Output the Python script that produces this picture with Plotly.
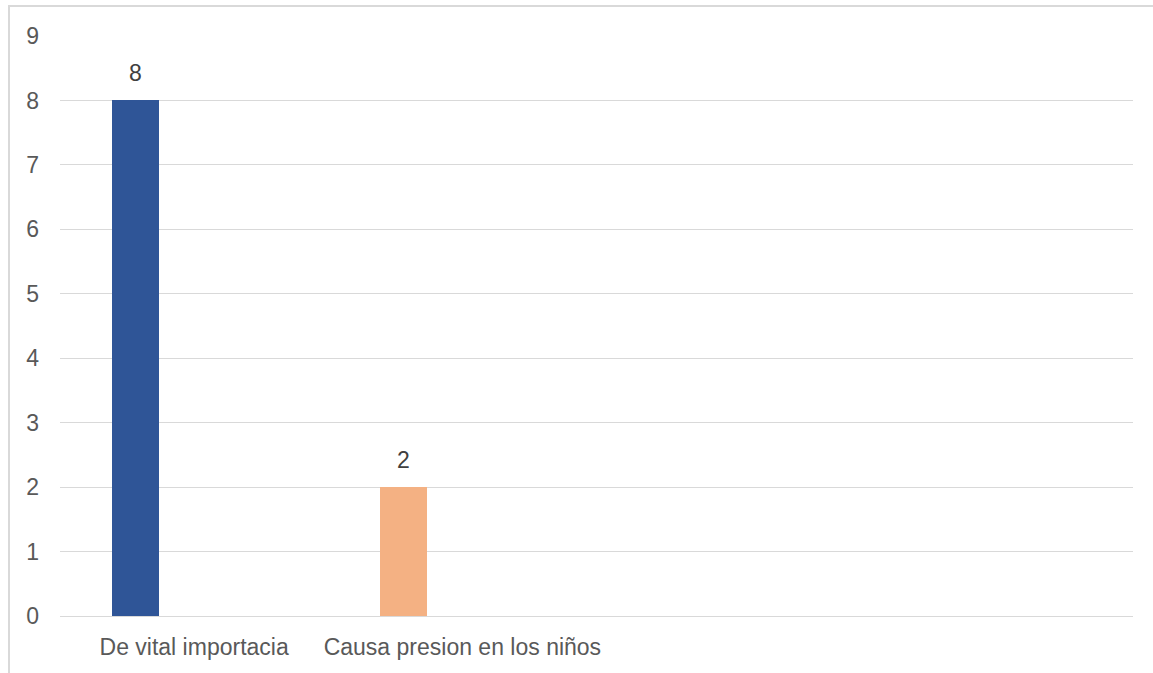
import numpy as np
import plotly.graph_objects as go

categories = ["De vital importacia", "Causa presion en los niños", "", ""]
values = [8, 2, None, None]
bar_colors = ["#2F5597", "#F4B183", "#2F5597", "#F4B183"]
y_ticks = list(range(0, 10))

W, H = 1153, 673
L, R, T, B = 60, 20, 36, 57

idx = np.arange(len(categories))
bar_offset = -0.2185  # within-slot position of the bar centre
bar_width = 0.175
FONT = "Liberation Sans, Arial"

fig = go.Figure()
fig.add_trace(go.Bar(
    x=idx + bar_offset,
    y=values,
    width=bar_width,
    marker=dict(color=bar_colors, line=dict(width=0)),
    showlegend=False,
    hoverinfo="skip",
))

for xi, v in zip(idx + bar_offset, values):
    if v is None:
        continue
    fig.add_annotation(x=xi, y=v, text=str(v), showarrow=False,
                       yanchor="bottom", yshift=12,
                       font=dict(family=FONT, size=23, color="#404040"))

pw = W - L - R
ph = H - T - B
fig.add_shape(type="rect", xref="paper", yref="paper",
              x0=(9 - L) / pw, x1=(1160 - L) / pw,
              y0=(H - B - 690) / ph, y1=(H - B - 6) / ph,
              line=dict(color="#d9d9d9", width=2), fillcolor="rgba(0,0,0,0)", layer="below")

fig.update_layout(
    width=W, height=H,
    margin=dict(l=L, r=R, t=T, b=B),
    paper_bgcolor="white", plot_bgcolor="white",
    font=dict(family=FONT, size=23, color="#595959"),
    bargap=0,
    xaxis=dict(
        range=[-0.5, len(categories) - 0.5],
        tickmode="array", tickvals=idx, ticktext=categories,
        showgrid=False, zeroline=False,
        showline=True, linecolor="#d9d9d9", linewidth=1,
        ticks="", ticklabelstandoff=10,
        tickfont=dict(size=23, color="#595959"),
    ),
    yaxis=dict(
        range=[0, 9], tickmode="array", tickvals=y_ticks,
        showgrid=True, gridcolor="#d9d9d9", gridwidth=1,
        zeroline=False, showline=False,
        ticks="", ticklabelstandoff=20,
        tickfont=dict(size=23, color="#595959"),
    ),
)

fig.write_html("out.html", config={"displayModeBar": False},
               post_script="document.body.style.margin='0';")
